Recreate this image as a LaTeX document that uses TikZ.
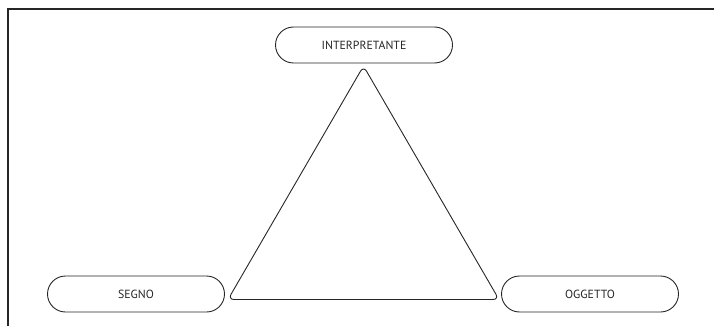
\documentclass[tikz,border=0pt]{standalone}
\usepackage{fontspec}
\setmainfont{PT Sans}
\begin{document}
\begin{tikzpicture}[x=1pt,y=-1pt,
  pill/.style={draw=black!85,line width=0.9pt,rounded corners=18pt,minimum width=177pt,minimum height=36pt,inner sep=0pt,font=\fontsize{11.8}{14}\selectfont,text=black!85},
  tri/.style={draw=black!85,line width=0.9pt,rounded corners=6pt},
  frame/.style={draw=black!85,line width=1.2pt}]
\useasboundingbox (0,0) rectangle (714,326);
\coordinate (f1) at (8,326);
\coordinate (f2) at (8,9);
\coordinate (f3) at (714,9);
\draw[frame] (f1) -- (f2) -- (f3);
\node[pill] (interp) at (364,45) {INTERPRETANTE};
\node[pill] (segno) at (136,294) {SEGNO};
\node[pill] (ogg) at (590,294) {OGGETTO};
\coordinate (a) at (363.5,66);
\coordinate (bl) at (228,299.5);
\coordinate (br) at (499,299.5);
\draw[tri] (a) -- (br) -- (bl) -- cycle;
\end{tikzpicture}
\end{document}
